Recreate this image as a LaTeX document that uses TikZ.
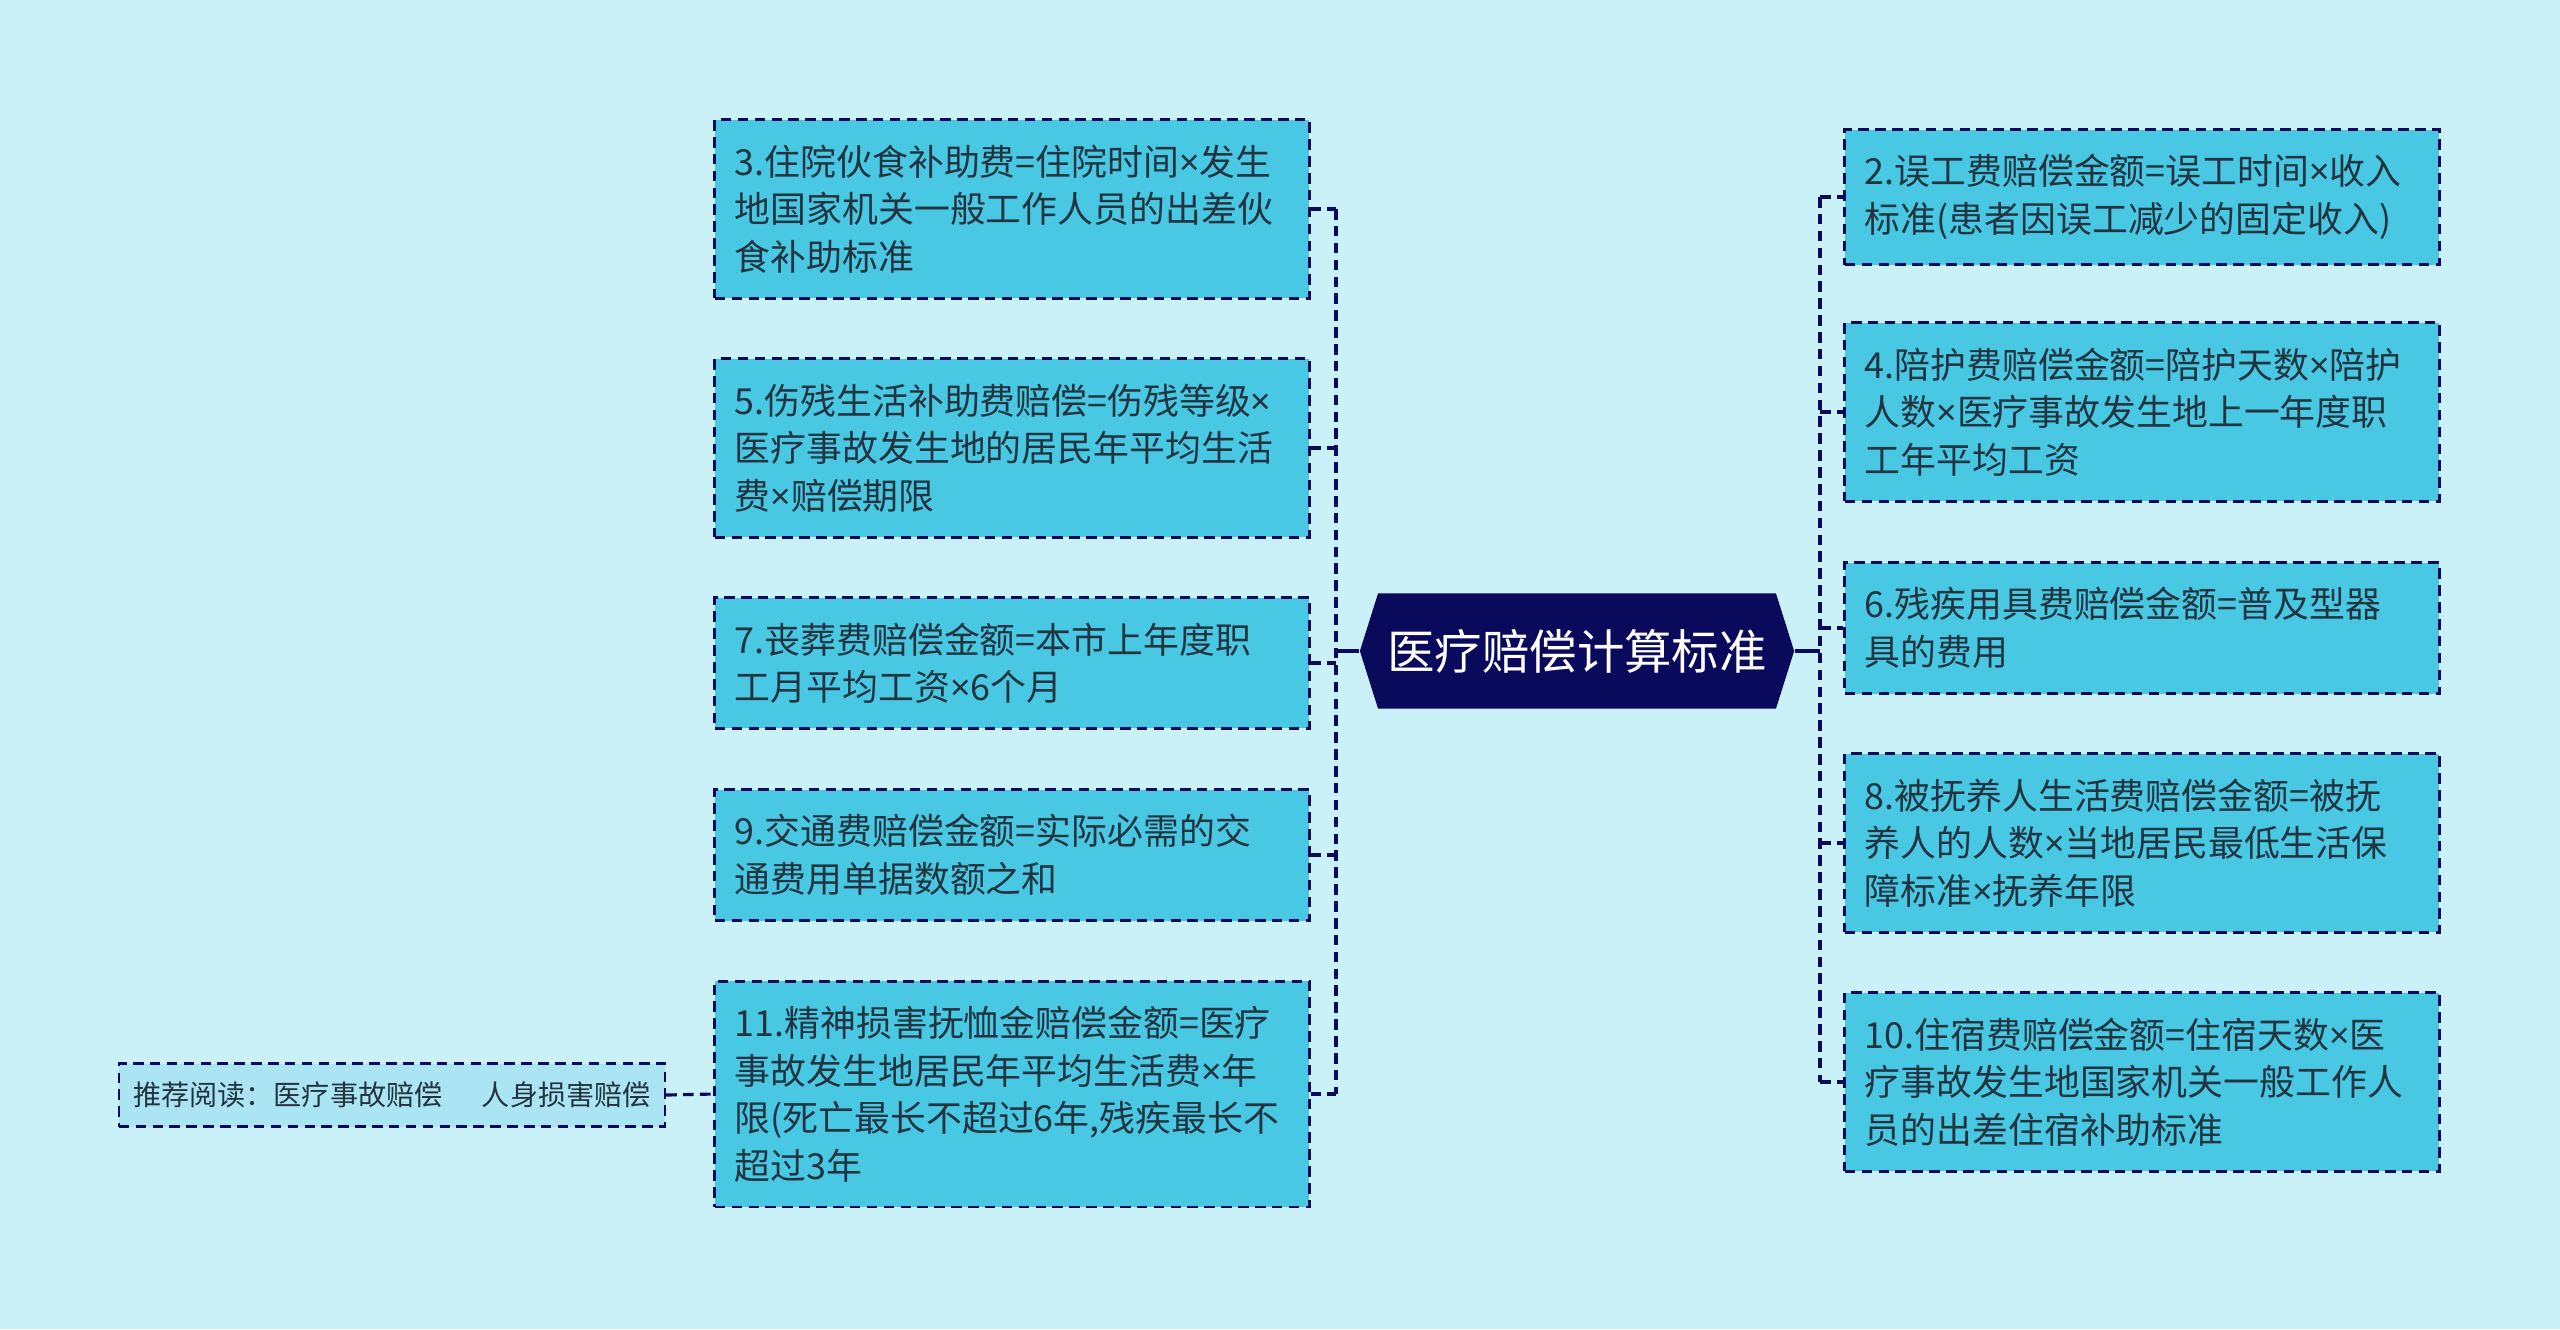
\documentclass[tikz,border=0pt]{standalone}
\usepackage{fontspec}
\setmainfont{Noto Sans CJK SC}
\newfontfamily\latinfont{Noto Sans}
\usetikzlibrary{positioning,shapes.symbols}
\definecolor{mapsky}{HTML}{CAF0F8}
\definecolor{mapleaf}{HTML}{48C8E3}
\definecolor{mapnavy}{HTML}{0A0A5C}
\definecolor{maptext}{HTML}{22343F}
\definecolor{mapnote}{HTML}{ABE5F3}
\newcommand{\tm}{{\latinfont ×}}

\begin{document}
\begin{tikzpicture}[x=0.01cm,y=-0.01cm,
  leaf/.style={draw=mapnavy,fill=mapleaf,dash pattern=on 3pt off 1.8pt,line width=0.8pt,text width=5.54cm,inner xsep=0.2cm,inner ysep=0.25cm,align=left,text=maptext,font=\fontsize{10.2}{13.5}\selectfont},
  hub/.style={signal,signal to=west and east,signal pointer angle=145,fill=mapnavy,text=white,minimum width=4.34cm,minimum height=1.15cm,inner sep=0pt,font=\fontsize{13.5}{16}\selectfont},
  note/.style={draw=mapnavy,fill=mapnote,dash pattern=on 3pt off 1.8pt,line width=0.6pt,minimum width=5.46cm,minimum height=0.63cm,inner sep=0pt,text=maptext,font=\fontsize{8}{9}\selectfont},
  link/.style={mapnavy,line width=0.9pt,dash pattern=on 3pt off 1.8pt},
  stem/.style={mapnavy,line width=0.9pt}
]
\fill[mapsky] (0,0) rectangle (2560,1329);
\useasboundingbox (0,0) rectangle (2560,1329);

\node[hub] (root) at (1577,651) {医疗赔偿计算标准};

\node[leaf] (b3) at (1012,209) {3.住院伙食补助费=住院时间\tm 发生\\地国家机关一般工作人员的出差伙\\食补助标准};
\node[leaf] (b5) at (1012,448) {5.伤残生活补助费赔偿=伤残等级\tm\\医疗事故发生地的居民年平均生活\\费\tm 赔偿期限};
\node[leaf] (b7) at (1012,663) {7.丧葬费赔偿金额=本市上年度职\\工月平均工资\tm 6个月};
\node[leaf] (b9) at (1012,855) {9.交通费赔偿金额=实际必需的交\\通费用单据数额之和};
\node[leaf] (b11) at (1012,1094) {11.精神损害抚恤金赔偿金额=医疗\\事故发生地居民年平均生活费\tm 年\\限(死亡最长不超过6年,残疾最长不\\超过3年};

\node[leaf] (b2) at (2142,197) {2.误工费赔偿金额=误工时间\tm 收入\\标准(患者因误工减少的固定收入)};
\node[leaf] (b4) at (2142,412) {4.陪护费赔偿金额=陪护天数\tm 陪护\\人数\tm 医疗事故发生地上一年度职\\工年平均工资};
\node[leaf] (b6) at (2142,628) {6.残疾用具费赔偿金额=普及型器\\具的费用};
\node[leaf] (b8) at (2142,843) {8.被抚养人生活费赔偿金额=被抚\\养人的人数\tm 当地居民最低生活保\\障标准\tm 抚养年限};
\node[leaf] (b10) at (2142,1082) {10.住宿费赔偿金额=住宿天数\tm 医\\疗事故发生地国家机关一般工作人\\员的出差住宿补助标准};

\node[note] (rec) at (392,1095) {推荐阅读：医疗事故赔偿\hspace{1.4em}人身损害赔偿};

\coordinate (tl) at (1336,651);
\coordinate (tr) at (1820,651);
\draw[stem] (root.west) -- (tl);
\draw[stem] (root.east) -- (tr);
\draw[link] (tl |- b3.east) -- (tl |- b11.east);
\foreach \b in {b3,b5,b7,b9,b11} \draw[link] (\b.east) -- (tl |- \b.east);
\draw[link] (tr |- b2.west) -- (tr |- b10.west);
\foreach \b in {b2,b4,b6,b8,b10} \draw[link] (tr |- \b.west) -- (\b.west);
\draw[link] (rec.east) -- (b11.west);
\end{tikzpicture}
\end{document}
